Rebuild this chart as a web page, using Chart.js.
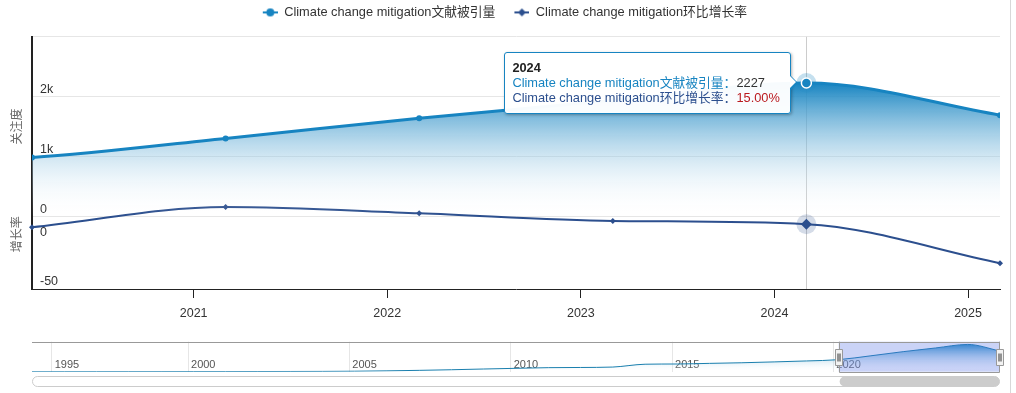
<!DOCTYPE html>
<html>
<head>
<meta charset="utf-8">
<script src="https://cdn.jsdelivr.net/npm/chart.js@4.4.1/dist/chart.umd.min.js"></script>
<style>
  html, body { margin: 0; padding: 0; background: #fff; }
  #wrap { position: relative; width: 1016px; height: 393px; overflow: hidden; }
  #main { position: absolute; left: 0; top: 0; }
  #nav { position: absolute; left: 0; top: 335px; }
  #edge { position: absolute; left: 1010px; top: 0; width: 1px; height: 393px; background: #d8d8d8; }
  #tip {
    position: absolute; display: none; box-sizing: border-box;
    background: rgba(255,255,255,0.97); border: 1px solid #1784c1; border-radius: 3px;
    box-shadow: 1px 1px 3px rgba(0,0,0,0.3);
    padding: 7px 10px 8px 7px;
    font: 12.8px "Liberation Sans", Arial, "Noto Sans CJK SC", sans-serif;
    line-height: 15px; color: #333; white-space: nowrap;
  }
  #tip .t-title { font-weight: bold; color: #222; }
  #tip::before {
    content: ''; position: absolute; right: -8px; top: 22.5px;
    border-style: solid; border-width: 8px 0 8px 8px;
    border-color: transparent transparent transparent #1784c1;
  }
  #tip::after {
    content: ''; position: absolute; right: -6.6px; top: 23.9px;
    border-style: solid; border-width: 6.6px 0 6.6px 6.6px;
    border-color: transparent transparent transparent #fff;
  }
</style>
</head>
<body>
<div id="wrap">
  <canvas id="main" width="1016" height="330"></canvas>
  <canvas id="nav" width="1016" height="55"></canvas>
  <div id="edge"></div>
  <div id="tip"></div>
</div>
<script>
// data
const years = [1995, 1996, 1997, 1998, 1999, 2000, 2001, 2002, 2003, 2004,
  2005, 2006, 2007, 2008, 2009, 2010, 2011, 2012, 2013, 2014,
  2015, 2016, 2017, 2018, 2019, 2020, 2021, 2022, 2023, 2024, 2025];
const citations = [2, 3, 4, 5, 7, 9, 11, 14, 18, 24,
  40, 70, 110, 160, 220, 276, 330, 345, 380, 610,
  630, 680, 730, 800, 878, 983, 1300, 1638, 1937, 2227, 1690];
const rateYears = [2020, 2021, 2022, 2023, 2024, 2025];
const growthRates = [12.0, 32.3, 26.0, 18.3, 15.0, -24.1];
const countTicks = [0, 1000, 2000, 3000];
const rateTicks = [-50, 0];
const yearTicks = [2021, 2022, 2023, 2024, 2025];
const navTicks = [1995, 2000, 2005, 2010, 2015, 2020];
const focusYear = 2024;

const NAME_CITE = 'Climate change mitigation文献被引量';
const NAME_RATE = 'Climate change mitigation环比增长率';

// points are dated a little after new year, the axis ticks sit on Jan 1
const OFFSET = 0.165;
const C1 = '#1784c1';
const C2 = '#2c4f8e';

Chart.defaults.font.family = '"Liberation Sans", Arial, "Noto Sans CJK SC", sans-serif';
Chart.defaults.font.size = 12.5;
Chart.defaults.color = '#333';

// legend symbol: line with marker, blank lead-in gives the gap between items
function legendIcon(color, marker) {
  const c = document.createElement('canvas');
  c.width = 28; c.height = 10;
  const g = c.getContext('2d');
  g.strokeStyle = color; g.lineWidth = 2;
  g.beginPath(); g.moveTo(13, 5); g.lineTo(28, 5); g.stroke();
  g.fillStyle = color;
  g.beginPath();
  if (marker === 'circle') {
    g.arc(20.5, 5, 4, 0, Math.PI * 2);
  } else {
    g.moveTo(20.5, 1); g.lineTo(24.5, 5); g.lineTo(20.5, 9); g.lineTo(16.5, 5); g.closePath();
  }
  g.fill();
  return c;
}
const legendIcons = [legendIcon(C1, 'circle'), legendIcon(C2, 'diamond')];

// push the plot down a bit under the legend, and nudge the row left
const legendGap = {
  id: 'legendGap',
  beforeInit(chart) {
    const fit = chart.legend.fit;
    chart.legend.fit = function () {
      fit.call(this);
      this.height += 8;
      if (this.lineWidths) this.lineWidths[0] += 14;
    };
  }
};

// crosshair + halo behind the hovered points
const hoverDecor = {
  id: 'hoverDecor',
  beforeDatasetsDraw(chart) {
    const active = chart.getActiveElements();
    if (!active.length) return;
    const { ctx, chartArea } = chart;
    const x = Math.round(active[0].element.x) + 0.5;
    ctx.save();
    ctx.strokeStyle = '#cccccc';
    ctx.lineWidth = 1;
    ctx.beginPath();
    ctx.moveTo(x, chartArea.top);
    ctx.lineTo(x, chartArea.bottom);
    ctx.stroke();
    active.forEach(a => {
      ctx.fillStyle = a.datasetIndex === 0 ? 'rgba(23,132,193,0.25)' : 'rgba(44,79,142,0.2)';
      ctx.beginPath();
      ctx.arc(a.element.x, a.element.y, 10, 0, Math.PI * 2);
      ctx.fill();
    });
    ctx.restore();
  }
};

function renderTip({ tooltip }) {
  const tip = document.getElementById('tip');
  if (tooltip.opacity === 0 || !tooltip.dataPoints || !tooltip.dataPoints.length) {
    tip.style.display = 'none';
    return;
  }
  const pts = tooltip.dataPoints;
  const head = pts[0];
  const year = head.datasetIndex === 0 ? years[head.dataIndex] : rateYears[head.dataIndex];
  let html = '<div class="t-title">' + year + '</div>';
  pts.forEach(p => {
    const isRate = p.datasetIndex === 1;
    const val = isRate ? p.parsed.y.toFixed(2) + '%' : String(p.parsed.y);
    html += '<div><span style="color:' + p.dataset.borderColor + '">' + p.dataset.label + '：</span>' +
      '<span style="color:' + (isRate ? '#bb1a1f' : '#333') + '">' + val + '</span></div>';
  });
  tip.innerHTML = html;
  tip.style.display = 'block';
  const el = head.element;
  tip.style.left = (el.x - 16 - tip.offsetWidth) + 'px';
  tip.style.top = (el.y - 31.5) + 'px';
}

const mainChart = new Chart(document.getElementById('main'), {
  type: 'line',
  data: {
    datasets: [{
      label: NAME_CITE,
      data: years.map((y, i) => ({ x: y + OFFSET, y: citations[i] })),
      yAxisID: 'yCount',
      borderColor: C1,
      borderWidth: 3,
      fill: 'start',
      backgroundColor: ctx => {
        const chart = ctx.chart;
        if (!chart.chartArea) return null;
        const ys = chart.scales.yCount;
        const g = chart.ctx.createLinearGradient(0, ys.getPixelForValue(Math.max(...citations)), 0, ys.getPixelForValue(0));
        g.addColorStop(0, 'rgba(23,132,193,1)');
        g.addColorStop(1, 'rgba(255,255,255,0)');
        return g;
      },
      cubicInterpolationMode: 'monotone',
      pointRadius: 3,
      pointBackgroundColor: C1,
      pointBorderWidth: 0,
      pointHoverRadius: 5,
      pointHoverBackgroundColor: C1,
      pointHoverBorderColor: '#ffffff',
      pointHoverBorderWidth: 1.5
    }, {
      label: NAME_RATE,
      data: rateYears.map((y, i) => ({ x: y + OFFSET, y: growthRates[i] })),
      yAxisID: 'yRate',
      borderColor: C2,
      borderWidth: 2,
      fill: false,
      clip: false,
      cubicInterpolationMode: 'monotone',
      pointStyle: 'rectRot',
      pointRadius: 3,
      pointBackgroundColor: C2,
      pointBorderWidth: 0,
      pointHoverRadius: 5.5,
      pointHoverBackgroundColor: C2,
      pointHoverBorderColor: C2,
      pointHoverBorderWidth: 0
    }]
  },
  options: {
    responsive: false,
    animation: false,
    events: [],
    layout: { padding: { left: 10.8, right: 16, top: 0, bottom: 1 } },
    interaction: { mode: 'index', intersect: false },
    scales: {
      x: {
        type: 'linear',
        min: rateYears[0] + OFFSET,
        max: rateYears[rateYears.length - 1] + OFFSET,
        afterBuildTicks: s => { s.ticks = yearTicks.map(v => ({ value: v })); },
        ticks: { padding: 8, color: '#333', callback: v => String(v) },
        grid: { drawOnChartArea: false, drawTicks: true, tickLength: 9, color: '#222' },
        border: { color: '#222', width: 1 }
      },
      yCount: {
        type: 'linear',
        position: 'left',
        stack: 'panes',
        stackWeight: 180,
        weight: 1,
        min: countTicks[0],
        max: countTicks[countTicks.length - 1],
        z: 1,
        afterBuildTicks: s => { s.ticks = countTicks.map(v => ({ value: v })); },
        afterFit: s => { s.width = 21.2; },
        ticks: {
          mirror: true, padding: 8, labelOffset: -7, color: '#333',
          callback: v => v === countTicks[countTicks.length - 1] ? '' : (v >= 1000 ? v / 1000 + 'k' : String(v))
        },
        grid: { color: '#e6e6e6', drawTicks: false },
        border: { color: '#222', width: 2 },
        title: { display: true, text: '关注度', color: '#666', font: { size: 12 }, padding: { top: 0, bottom: 6.8 } }
      },
      yRate: {
        type: 'linear',
        position: 'left',
        stack: 'panes',
        stackWeight: 73,
        weight: 0,
        min: -50,
        max: 23,
        z: 1,
        afterBuildTicks: s => { s.ticks = rateTicks.map(v => ({ value: v })); },
        afterFit: s => { s.width = 21.2; },
        ticks: { mirror: true, padding: 8, labelOffset: -7, color: '#333', callback: v => String(v) },
        grid: { display: false, drawTicks: false },
        border: { color: '#222', width: 2 },
        title: { display: true, text: '增长率', color: '#666', align: 'end', font: { size: 12 }, padding: { top: 0, bottom: 6.8 } }
      }
    },
    plugins: {
      legend: {
        position: 'top',
        labels: {
          usePointStyle: true,
          pointStyleWidth: 28,
          padding: 6,
          color: '#333',
          font: { size: 12.8 },
          generateLabels: chart => Chart.defaults.plugins.legend.labels.generateLabels(chart)
            .map((l, i) => Object.assign(l, { pointStyle: legendIcons[i] }))
        }
      },
      tooltip: { enabled: false, external: renderTip }
    }
  },
  plugins: [legendGap, hoverDecor]
});

const active = [
  { datasetIndex: 0, index: years.indexOf(focusYear) },
  { datasetIndex: 1, index: rateYears.indexOf(focusYear) }
];
mainChart.setActiveElements(active);
mainChart.tooltip.setActiveElements(active, { x: 0, y: 0 });
mainChart.update();

// navigator: mask over the shown range, handles and the scrollbar
const navDecor = {
  id: 'navDecor',
  afterDraw(chart) {
    const { ctx, chartArea: a, scales: { x } } = chart;
    const x1 = x.getPixelForValue(rateYears[0] + OFFSET);
    const x2 = x.getPixelForValue(rateYears[rateYears.length - 1] + OFFSET);
    ctx.save();
    ctx.fillStyle = 'rgba(80,110,230,0.3)';
    ctx.fillRect(x1, a.top, x2 - x1, a.bottom - a.top);

    ctx.strokeStyle = '#999999';
    ctx.lineWidth = 1;
    ctx.beginPath();
    ctx.moveTo(a.left, Math.round(a.top) + 0.5);
    ctx.lineTo(a.right, Math.round(a.top) + 0.5);
    ctx.moveTo(Math.round(x1) + 0.5, a.top);
    ctx.lineTo(Math.round(x1) + 0.5, Math.round(a.bottom) + 0.5);
    ctx.lineTo(Math.round(x2) - 0.5, Math.round(a.bottom) + 0.5);
    ctx.lineTo(Math.round(x2) - 0.5, a.top);
    ctx.stroke();

    const hy = Math.round((a.top + a.bottom) / 2 - 8) + 0.5;
    [x1, x2].forEach(hx => {
      const l = Math.round(hx) - 3.5;
      ctx.fillStyle = '#f2f2f2';
      ctx.strokeStyle = '#999999';
      ctx.beginPath();
      ctx.rect(l, hy, 7, 16);
      ctx.fill();
      ctx.stroke();
      ctx.strokeStyle = '#333333';
      ctx.beginPath();
      ctx.moveTo(l + 2.5, hy + 4); ctx.lineTo(l + 2.5, hy + 12);
      ctx.moveTo(l + 4.5, hy + 4); ctx.lineTo(l + 4.5, hy + 12);
      ctx.stroke();
    });

    const sy = Math.round(a.bottom) + 4.5;
    ctx.strokeStyle = '#cccccc';
    ctx.beginPath();
    ctx.roundRect(a.left + 0.5, sy, a.right - a.left - 1, 10, 5);
    ctx.stroke();
    ctx.fillStyle = '#cccccc';
    ctx.beginPath();
    ctx.roundRect(x1 + 1, sy, x2 - x1 - 1.5, 10, 5);
    ctx.fill();
    ctx.restore();
  }
};

new Chart(document.getElementById('nav'), {
  type: 'line',
  data: {
    datasets: [{
      data: years.map((y, i) => ({ x: y + OFFSET, y: citations[i] })),
      borderColor: '#1a7fae',
      borderWidth: 1,
      pointRadius: 0,
      cubicInterpolationMode: 'monotone',
      fill: 'start',
      backgroundColor: ctx => {
        const chart = ctx.chart;
        if (!chart.chartArea) return null;
        const g = chart.ctx.createLinearGradient(0, chart.scales.y.getPixelForValue(Math.max(...citations)), 0, chart.chartArea.bottom);
        g.addColorStop(0, 'rgba(23,132,193,0.9)');
        g.addColorStop(1, 'rgba(255,255,255,0)');
        return g;
      }
    }]
  },
  options: {
    responsive: false,
    animation: false,
    events: [],
    layout: { padding: { left: 32, right: 16, top: 6.7, bottom: 18.3 } },
    scales: {
      x: {
        type: 'linear',
        min: years[0] + OFFSET,
        max: years[years.length - 1] + OFFSET,
        // first label is pinned just inside the left edge
        afterBuildTicks: s => { s.ticks = navTicks.map(v => ({ value: Math.max(v, s.min + 0.61) })); },
        ticks: { mirror: true, padding: 0, align: 'start', labelOffset: 3, color: '#555', font: { size: 11 }, callback: v => String(Math.floor(v)) },
        grid: { color: '#e6e6e6', drawTicks: false },
        border: { display: false }
      },
      y: { display: false, min: 0, max: 2450 }
    },
    plugins: { legend: { display: false }, tooltip: { enabled: false } }
  },
  plugins: [navDecor]
});
</script>
</body>
</html>
